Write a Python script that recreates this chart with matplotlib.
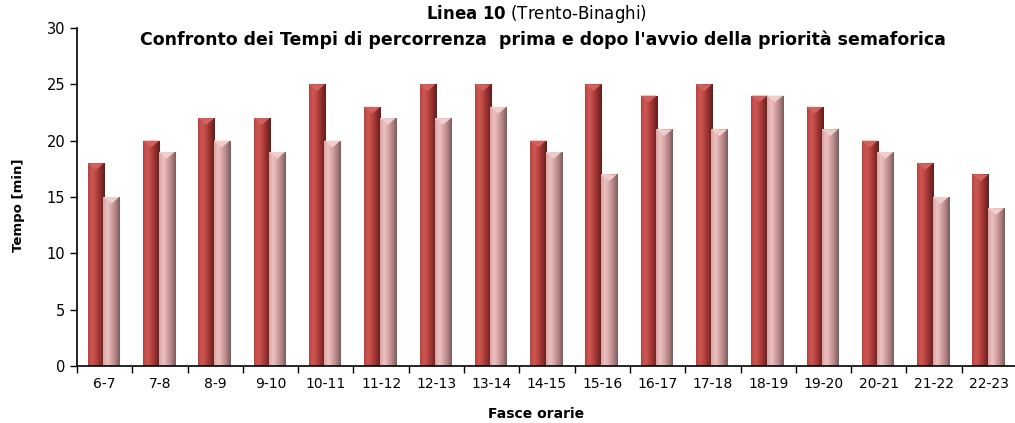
import numpy as np
import matplotlib.pyplot as plt
from matplotlib.colors import LinearSegmentedColormap

# data
fasce = ['6-7', '7-8', '8-9', '9-10', '10-11', '11-12', '12-13', '13-14', '14-15',
         '15-16', '16-17', '17-18', '18-19', '19-20', '20-21', '21-22', '22-23']
prima = [18, 20, 22, 22, 25, 23, 25, 25, 20, 25, 24, 25, 24, 23, 20, 18, 17]
dopo = [15, 19, 20, 19, 20, 22, 22, 23, 19, 17, 21, 21, 24, 21, 19, 15, 14]

plt.rcParams['font.family'] = ['DejaVu Sans']

fig = plt.figure(figsize=(10.15, 4.23), dpi=100)
ax = fig.add_axes([77 / 1015, 1 - 366 / 423, (1017 - 77) / 1015, (366 - 28) / 423])

cm_dark = LinearSegmentedColormap.from_list('dark', ['#b8423f', '#cf5854', '#b64340', '#8e2e2c', '#5e1e1d'])
cm_light = LinearSegmentedColormap.from_list('light', ['#d9a3a2', '#ecc3c2', '#d6a3a2', '#b08282', '#7c5b5b'])
grad = np.linspace(0, 1, 64).reshape(1, -1)

x = np.arange(len(fasce)) + 0.5
width = 0.29
off_dark = -0.16
off_light = 0.12


def draw_bars(xs, vals, cmap, cap):
    bars = ax.bar(xs, vals, width=width, color='none', edgecolor='none', zorder=2)
    for b in bars:
        x0 = b.get_x()
        h = b.get_height()
        im = ax.imshow(grad, cmap=cmap, aspect='auto', extent=(x0, x0 + width, 0, h),
                       interpolation='bicubic', zorder=2)
        im.set_clip_path(b)
        # pointed cap like the original 3D bars
        ax.fill([x0, x0 + width, x0 + width / 2], [h, h, h - 0.6], color=cap, zorder=3, lw=0)


draw_bars(x + off_dark, prima, cm_dark, '#d2605c')
draw_bars(x + off_light, dopo, cm_light, '#f0cccb')

ax.set_xlim(0, len(fasce))
ax.set_ylim(0, 30)
ax.set_yticks(range(0, 31, 5))
ax.set_xticks(np.arange(len(fasce) + 1), minor=False)
ax.set_xticklabels([])
ax.set_xticks(x, minor=True)
ax.set_xticklabels(fasce, minor=True)
ax.tick_params(axis='x', which='minor', length=0, pad=8, labelsize=10)
ax.tick_params(axis='x', which='major', length=5, width=1)
ax.tick_params(axis='y', length=5, width=1, labelsize=10.5)
for s in ['top', 'right']:
    ax.spines[s].set_visible(False)
ax.spines['left'].set_linewidth(1.2)
ax.spines['bottom'].set_linewidth(1.2)

ax.set_ylabel('Tempo [min]', fontsize=9.5, fontweight='bold')
ax.yaxis.set_label_coords(-52 / 940, 0.475)
ax.set_xlabel('Fasce orarie', fontsize=10, fontweight='bold')
ax.xaxis.set_label_coords((536 - 77) / 940, -0.12)

fig.text(536 / 1015, 1 - 14 / 423, r'$\bf{Linea\ 10}$ (Trento-Binaghi)', ha='center', va='center', fontsize=12)
fig.text(543 / 1015, 1 - 40 / 423,
         "Confronto dei Tempi di percorrenza  prima e dopo l'avvio della priorità semaforica",
         ha='center', va='center', fontsize=12.5, fontweight='bold')

fig.savefig('out.png', dpi=100)
